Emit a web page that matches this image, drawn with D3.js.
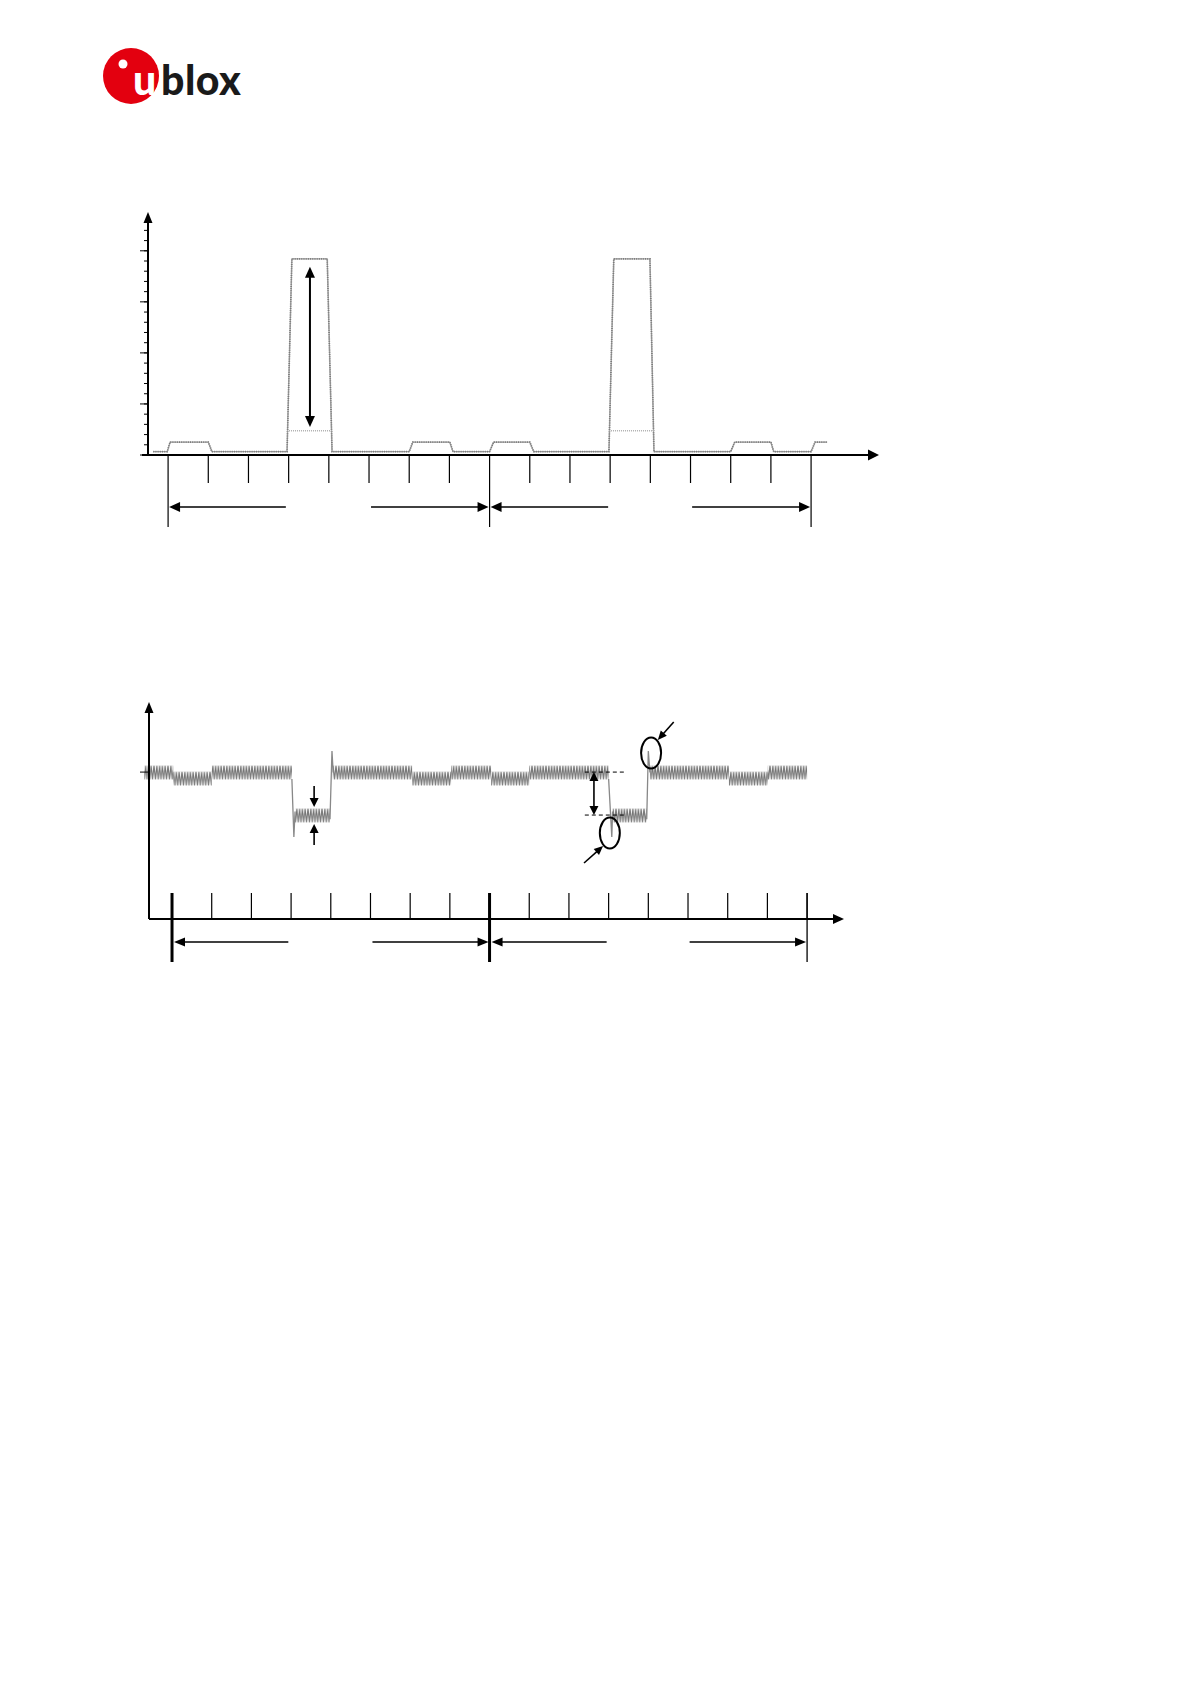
<!DOCTYPE html>
<html><head><meta charset="utf-8">
<script src="https://cdn.jsdelivr.net/npm/d3@7"></script>
<style>body{margin:0;background:#fff}svg{display:block}</style>
</head><body><svg id="c" width="1191" height="1684"></svg>
<script>
// ---------- data ----------
const slotTicks = d3.range(0, 17);          // time-slot tick marks
const frameBounds = [0, 8, 16];             // frame boundaries (long ticks)
const periodArrowsLeft = [[0, 2.93], [8, 10.95]];
const periodArrowsRight = [[5.05, 8], [13.04, 16]];

// top chart: current trace (x in slots, y in units)
const topTraceX = [-0.37, -0.02, 0.05, 1.0, 1.09, 2.96, 3.08, 3.96, 4.08, 6.0, 6.09, 7.01, 7.09, 8.0, 8.1, 9.0, 9.1, 10.97, 11.09, 11.99, 12.09, 14.0, 14.1, 15.0, 15.07, 16.0, 16.1, 16.4];
const topTraceY = [0.33, 0.33, 1.27, 1.27, 0.33, 0.33, 19.2, 19.2, 0.33, 0.33, 1.27, 1.27, 0.33, 0.33, 1.27, 1.27, 0.33, 0.33, 19.2, 19.2, 0.33, 0.33, 1.27, 1.27, 0.33, 0.33, 1.27, 1.27];
const topInnerStart = [2.96, 10.97];
const topInnerEnd = [4.08, 12.09];
const topInnerLevel = 2.38;
const topYMinorTicks = d3.range(0, 23);
const topYMajorTicks = [0, 5, 10, 15, 20];
const topPeakArrow = [3.53, 2.75, 18.43];   // x, yFrom, yTo

// bottom chart: voltage bands (x in slots, y in units)
const botBandStart = [-0.7, 0.03, 1.0, 3.1, 4.05, 6.05, 7.03, 8.04, 9.0, 11.1, 12.04, 14.03, 15.01];
const botBandEnd   = [0.03, 1.0, 3.02, 3.98, 6.05, 7.03, 8.04, 9.0, 11.0, 11.96, 14.03, 15.01, 16.0];
const botBandLevel = ["high", "low", "high", "dip", "high", "low", "high", "low", "high", "dip", "high", "low", "high"];
const levelNames = ["high", "low", "dip"];
const levelValues = [6.75, 6.47, 4.77];
const bandHalf = 0.34;
const dipEdgesX = [[3.02, 3.07, 3.1], [3.98, 4.03, 4.06], [11.0, 11.08, 11.1], [11.96, 12.0, 12.04]];
const dipEdgesY = [[6.45, 3.78, 4.95], [4.6, 7.74, 6.75], [6.45, 3.78, 4.95], [4.6, 7.74, 6.75]];
const botYTick = [6.77];
const dropArrowsX = 3.58;
const dropArrowsY = [[6.13, 5.16], [3.41, 4.38]];
const dashLinesY = [6.77, 4.79];
const dashLinesX = [10.4, 11.41];
const dropDoubleArrow = [10.63, 6.77, 4.79];
const ellipseCx = [11.03, 12.07];
const ellipseCy = [3.96, 7.65];
const calloutFrom = [[10.38, 2.58], [12.64, 9.08]];
const calloutTo = [[10.86, 3.36], [12.24, 8.25]];

// ---------- drawing ----------
const svg = d3.select("#c");
svg.append("rect").attr("width", 1191).attr("height", 1684).attr("fill", "#fff");
const defs = svg.append("defs");

function head(g, x, y, ang, len = 11, wid = 10) {
  const c = Math.cos(ang), s = Math.sin(ang);
  const bx = x - c * len, by = y - s * len;
  const px = -s * wid / 2, py = c * wid / 2;
  g.append("path").attr("d", `M${x},${y}L${bx + px},${by + py}L${bx - px},${by - py}Z`).attr("fill", "#000");
}
function arrow(g, x1, y1, x2, y2, w = 1.5, len = 11, wid = 10, both = false) {
  const ang = Math.atan2(y2 - y1, x2 - x1);
  const c = Math.cos(ang), s = Math.sin(ang);
  const sx = both ? x1 + c * len * 0.8 : x1, sy = both ? y1 + s * len * 0.8 : y1;
  g.append("line").attr("x1", sx).attr("y1", sy).attr("x2", x2 - c * len * 0.8).attr("y2", y2 - s * len * 0.8)
    .attr("stroke", "#000").attr("stroke-width", w);
  head(g, x2, y2, ang, len, wid);
  if (both) head(g, x1, y1, ang + Math.PI, len, wid);
}

// logo
const logo = svg.append("g");
logo.append("circle").attr("cx", 131).attr("cy", 76).attr("r", 28).attr("fill", "#e3000f");
logo.append("circle").attr("cx", 123).attr("cy", 64).attr("r", 4.5).attr("fill", "#fff");
logo.append("text").attr("x", 133).attr("y", 95).attr("font-family", "Lato, 'Open Sans', sans-serif")
  .attr("font-weight", 900).attr("font-size", 41).attr("fill", "#fff").text("u");
logo.append("text").attr("x", 161).attr("y", 95).attr("font-family", "Lato, 'Open Sans', sans-serif")
  .attr("font-weight", 900).attr("font-size", 41).attr("fill", "#1a1a1a").attr("letter-spacing", 0.5).text("blox");

// ===== top chart =====
const xT = d3.scaleLinear().domain([-0.5, 17.69]).range([148, 879]);
const yT = d3.scaleLinear().domain([0, 23.8]).range([455, 212]);
const gT = svg.append("g");

gT.selectAll(".ymin").data(topYMinorTicks).join("line")
  .attr("x1", xT(-0.5) - 4).attr("x2", xT(-0.5)).attr("y1", d => yT(d)).attr("y2", d => yT(d))
  .attr("stroke", "#000").attr("stroke-width", 1);
gT.selectAll(".ymaj").data(topYMajorTicks).join("line")
  .attr("x1", xT(-0.5) - 8).attr("x2", xT(-0.5)).attr("y1", d => yT(d)).attr("y2", d => yT(d))
  .attr("stroke", "#000").attr("stroke-width", 1);
gT.selectAll(".xt").data(slotTicks).join("line")
  .attr("x1", d => xT(d)).attr("x2", d => xT(d)).attr("y1", yT(0))
  .attr("y2", d => frameBounds.includes(d) ? 527 : 483)
  .attr("stroke", "#000").attr("stroke-width", 1.2);

const topPts = topTraceX.map((x, i) => [xT(x), yT(topTraceY[i])]);
gT.append("path").attr("d", d3.line()(topPts)).attr("fill", "none").attr("stroke", "#a4a4a4").attr("stroke-width", 1.3);
gT.append("path").attr("d", d3.line()(topPts)).attr("fill", "none").attr("stroke", "#7a7a7a").attr("stroke-width", 1.7)
  .attr("stroke-dasharray", "1 1.2");
topInnerStart.forEach((s, i) => {
  gT.append("line").attr("x1", xT(s)).attr("x2", xT(topInnerEnd[i])).attr("y1", yT(topInnerLevel)).attr("y2", yT(topInnerLevel))
    .attr("stroke", "#b0b0b0").attr("stroke-width", 1.5).attr("stroke-dasharray", "1 1");
});

gT.append("line").attr("x1", xT(-0.5)).attr("x2", xT(-0.5)).attr("y1", yT(0)).attr("y2", yT(23.8) + 8).attr("stroke", "#000").attr("stroke-width", 2);
head(gT, xT(-0.5), yT(23.8), -Math.PI / 2, 11, 9);
gT.append("line").attr("x1", xT(-0.5) - 6).attr("x2", xT(17.69) - 8).attr("y1", yT(0)).attr("y2", yT(0)).attr("stroke", "#000").attr("stroke-width", 2);
head(gT, xT(17.69), yT(0), 0, 11, 11);

arrow(gT, xT(topPeakArrow[0]), yT(topPeakArrow[1]), xT(topPeakArrow[0]), yT(topPeakArrow[2]), 2, 11, 10, true);

const yPA = 507;
periodArrowsLeft.forEach(([a, b]) => arrow(gT, xT(b), yPA, xT(a) + 1, yPA, 1.6, 11, 10));
periodArrowsRight.forEach(([a, b]) => arrow(gT, xT(a), yPA, xT(b) - 1, yPA, 1.6, 11, 10));

// ===== bottom chart =====
const xB = d3.scaleLinear().domain([-0.58, 16.93]).range([149, 844]);
const yB = d3.scaleLinear().domain([0, 10]).range([919, 702]);
const gB = svg.append("g");

levelNames.forEach((n, i) => {
  const top = yB(levelValues[i] + bandHalf), bot = yB(levelValues[i] - bandHalf);
  const h = bot - top;
  const p = defs.append("pattern").attr("id", "zz-" + n).attr("patternUnits", "userSpaceOnUse")
    .attr("x", 0).attr("y", top).attr("width", 2.8).attr("height", h);
  p.append("path").attr("d", `M0,0.5L1.4,${h - 0.5}L2.8,0.5`).attr("fill", "none").attr("stroke", "#767676").attr("stroke-width", 1.15);
});

gB.selectAll(".xt").data(slotTicks).join("line")
  .attr("x1", d => xB(d)).attr("x2", d => xB(d))
  .attr("y1", yB(0)).attr("y2", 893)
  .attr("stroke", "#000").attr("stroke-width", 1.2);
gB.selectAll(".xl").data(frameBounds).join("line")
  .attr("x1", d => xB(d)).attr("x2", d => xB(d)).attr("y1", 893).attr("y2", 962)
  .attr("stroke", "#000").attr("stroke-width", (d, i) => i < 2 ? 3 : 1.3);

botBandStart.forEach((s, i) => {
  const li = levelNames.indexOf(botBandLevel[i]);
  const v = levelValues[li];
  gB.append("rect").attr("x", xB(s)).attr("width", xB(botBandEnd[i]) - xB(s))
    .attr("y", yB(v + bandHalf)).attr("height", yB(v - bandHalf) - yB(v + bandHalf))
    .attr("fill", `url(#zz-${botBandLevel[i]})`);
});
dipEdgesX.forEach((xs, i) => {
  const pts = xs.map((x, j) => [xB(x), yB(dipEdgesY[i][j])]);
  gB.append("path").attr("d", d3.line()(pts)).attr("fill", "none").attr("stroke", "#888").attr("stroke-width", 1.3);
});

gB.append("line").attr("x1", xB(-0.58)).attr("x2", xB(-0.58)).attr("y1", yB(0)).attr("y2", yB(10) + 8).attr("stroke", "#000").attr("stroke-width", 2);
head(gB, xB(-0.58), yB(10), -Math.PI / 2, 11, 9);
gB.append("line").attr("x1", xB(-0.58)).attr("x2", xB(16.93) - 8).attr("y1", yB(0)).attr("y2", yB(0)).attr("stroke", "#000").attr("stroke-width", 1.8);
head(gB, xB(16.93), yB(0), 0, 11, 10);
gB.selectAll(".yt").data(botYTick).join("line")
  .attr("x1", xB(-0.58) - 9).attr("x2", xB(-0.58)).attr("y1", d => yB(d)).attr("y2", d => yB(d))
  .attr("stroke", "#000").attr("stroke-width", 1);

dropArrowsY.forEach(([a, b]) => arrow(gB, xB(dropArrowsX), yB(a), xB(dropArrowsX), yB(b), 1.6, 9, 9));
dashLinesY.forEach(v => gB.append("line").attr("x1", xB(dashLinesX[0])).attr("x2", xB(dashLinesX[1]))
  .attr("y1", yB(v)).attr("y2", yB(v)).attr("stroke", "#000").attr("stroke-width", 1).attr("stroke-dasharray", "4 3"));
arrow(gB, xB(dropDoubleArrow[0]), yB(dropDoubleArrow[1]), xB(dropDoubleArrow[0]), yB(dropDoubleArrow[2]), 1.6, 9, 9, true);
ellipseCx.forEach((cx, i) => gB.append("ellipse").attr("cx", xB(cx)).attr("cy", yB(ellipseCy[i]))
  .attr("rx", 10).attr("ry", 15.5).attr("fill", "none").attr("stroke", "#000").attr("stroke-width", 2));
calloutFrom.forEach((f, i) => arrow(gB, xB(f[0]), yB(f[1]), xB(calloutTo[i][0]), yB(calloutTo[i][1]), 1.6, 9, 8));

const yPB = 942;
periodArrowsLeft.forEach(([a, b]) => arrow(gB, xB(b), yPB, xB(a) + 2, yPB, 1.6, 11, 9));
periodArrowsRight.forEach(([a, b]) => arrow(gB, xB(a), yPB, xB(b) - 1, yPB, 1.6, 11, 9));
</script></body></html>
